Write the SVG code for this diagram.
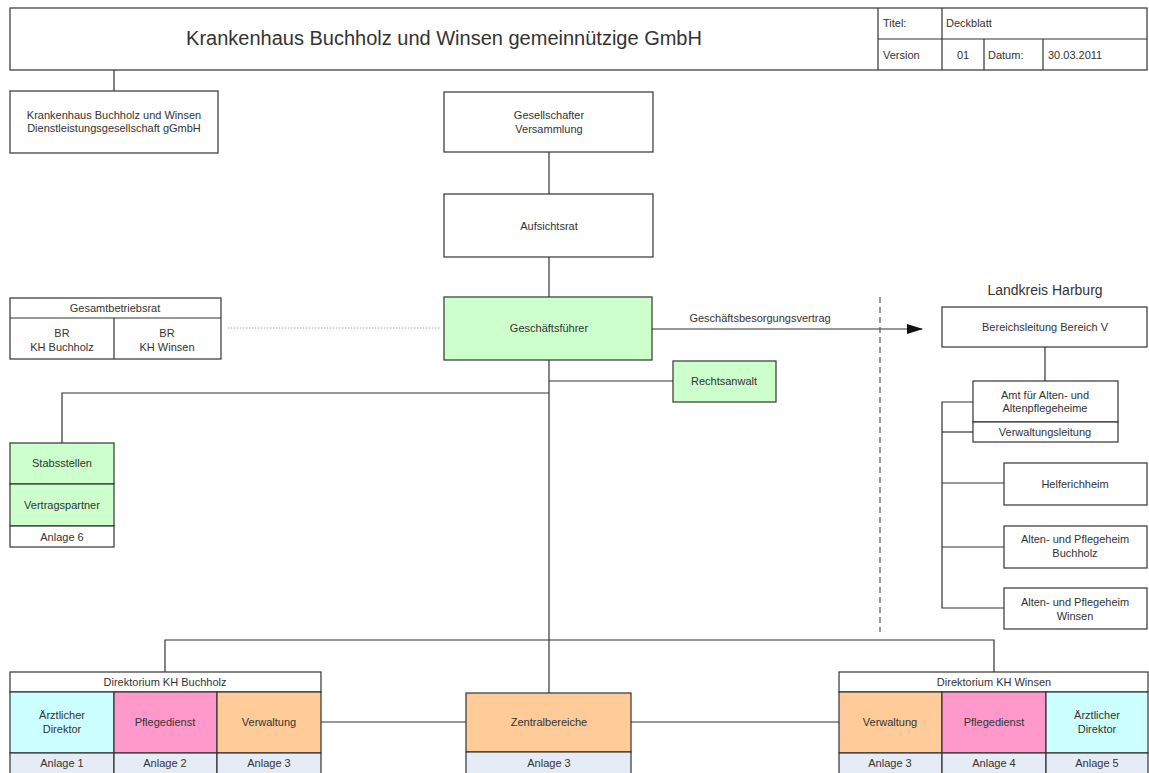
<svg xmlns="http://www.w3.org/2000/svg" width="1149" height="773" viewBox="0 0 1149 773">
<defs>
<style>
.b{fill:#fff;stroke:#333;stroke-width:1.2}
.g{fill:#ccffcc;stroke:#333;stroke-width:1.2}
.c{fill:#ccffff;stroke:#333;stroke-width:1.2}
.p{fill:#ff99cc;stroke:#333;stroke-width:1.2}
.o{fill:#ffcc99;stroke:#333;stroke-width:1.2}
.a{fill:#e6ecf6;stroke:#333;stroke-width:1.2}
.l{fill:none;stroke:#333;stroke-width:1.2}
text{font-family:"Liberation Sans",Arial,sans-serif;font-size:11px;fill:#333;text-anchor:middle;dominant-baseline:central}
.s{text-anchor:start}
</style>
<marker id="arr" markerWidth="16" markerHeight="10" refX="15" refY="5" orient="auto" markerUnits="userSpaceOnUse">
<path d="M0,0 L16,5 L0,10 Z" fill="#111"/>
</marker>
</defs>
<rect width="1149" height="773" fill="#fff"/>

<g id="connectors">
<line class="l" x1="114" y1="70" x2="114" y2="91"/>
<line class="l" x1="549" y1="152" x2="549" y2="194"/>
<line class="l" x1="549" y1="257" x2="549" y2="297"/>
<line class="l" x1="549" y1="360" x2="549" y2="693"/>
<line class="l" x1="549" y1="381" x2="673" y2="381"/>
<polyline class="l" points="549,393 62,393 62,443"/>
<polyline class="l" points="165,672 165,640 994,640 994,672"/>
<line class="l" x1="321" y1="722" x2="466" y2="722"/>
<line class="l" x1="631" y1="722" x2="839" y2="722"/>
<line x1="228" y1="328" x2="440" y2="328" stroke="#aaa" stroke-width="1" stroke-dasharray="1.5,1.5"/>
<line class="l" x1="652" y1="329" x2="922" y2="329" marker-end="url(#arr)"/>
<text x="760" y="318">Geschäftsbesorgungsvertrag</text>
<line x1="880" y1="297" x2="880" y2="632" stroke="#555" stroke-width="1.2" stroke-dasharray="6,4"/>
<line class="l" x1="1045" y1="347" x2="1045" y2="381"/>
<polyline class="l" points="973,402 942,402 942,608 1004,608"/>
<line class="l" x1="942" y1="432" x2="973" y2="432"/>
<line class="l" x1="942" y1="483" x2="1004" y2="483"/>
<line class="l" x1="942" y1="547" x2="1004" y2="547"/>
</g>

<g id="header">
<rect class="b" x="10" y="8" width="1137" height="62"/>
<line class="l" x1="878" y1="8" x2="878" y2="70"/>
<line class="l" x1="878" y1="39" x2="1147" y2="39"/>
<line class="l" x1="942" y1="8" x2="942" y2="70"/>
<line class="l" x1="984" y1="39" x2="984" y2="70"/>
<line class="l" x1="1043" y1="39" x2="1043" y2="70"/>
<text x="444" y="38" style="font-size:20px">Krankenhaus Buchholz und Winsen gemeinnützige GmbH</text>
<text class="s" x="883" y="23">Titel:</text>
<text class="s" x="946" y="23">Deckblatt</text>
<text class="s" x="883" y="55">Version</text>
<text x="963" y="55">01</text>
<text class="s" x="988" y="55">Datum:</text>
<text class="s" x="1048" y="55">30.03.2011</text>
</g>

<g id="dienstleistung">
<rect class="b" x="10" y="91" width="208" height="62"/>
<text x="114" y="115">Krankenhaus Buchholz und Winsen</text>
<text x="114" y="128">Dienstleistungsgesellschaft gGmbH</text>
</g>

<g id="gesellschafter">
<rect class="b" x="444" y="92" width="209" height="60"/>
<text x="549" y="115">Gesellschafter</text>
<text x="549" y="129">Versammlung</text>
</g>

<g id="aufsichtsrat">
<rect class="b" x="444" y="194" width="209" height="63"/>
<text x="549" y="226">Aufsichtsrat</text>
</g>

<g id="geschaeftsfuehrer">
<rect class="g" x="444" y="297" width="208" height="63"/>
<text x="549" y="328">Geschäftsführer</text>
</g>

<g id="rechtsanwalt">
<rect class="g" x="673" y="361" width="103" height="41"/>
<text x="724" y="381">Rechtsanwalt</text>
</g>

<g id="gesamtbetriebsrat">
<rect class="b" x="10" y="298" width="211" height="61"/>
<line class="l" x1="10" y1="318" x2="221" y2="318"/>
<line class="l" x1="114" y1="318" x2="114" y2="359"/>
<text x="115" y="308">Gesamtbetriebsrat</text>
<text x="62" y="333">BR</text>
<text x="62" y="347">KH Buchholz</text>
<text x="167" y="333">BR</text>
<text x="167" y="347">KH Winsen</text>
</g>

<g id="stabsstellen">
<rect class="g" x="10" y="443" width="104" height="41"/>
<rect class="g" x="10" y="484" width="104" height="42"/>
<rect class="b" x="10" y="526" width="104" height="21"/>
<text x="62" y="463">Stabsstellen</text>
<text x="62" y="505">Vertragspartner</text>
<text x="62" y="537">Anlage 6</text>
</g>

<g id="landkreis">
<text x="1045" y="290" style="font-size:14px">Landkreis Harburg</text>
</g>

<g id="bereichsleitung">
<rect class="b" x="942" y="307" width="205" height="40"/>
<text x="1045" y="327">Bereichsleitung Bereich V</text>
</g>

<g id="amt">
<rect class="b" x="973" y="381" width="145" height="41"/>
<rect class="b" x="973" y="422" width="145" height="20"/>
<text x="1045" y="395">Amt für Alten- und</text>
<text x="1045" y="408">Altenpflegeheime</text>
<text x="1045" y="432">Verwaltungsleitung</text>
</g>

<g id="helferichheim">
<rect class="b" x="1004" y="463" width="143" height="42"/>
<text x="1075" y="484">Helferichheim</text>
</g>

<g id="heim-buchholz">
<rect class="b" x="1004" y="526" width="143" height="42"/>
<text x="1075" y="539">Alten- und Pflegeheim</text>
<text x="1075" y="553">Buchholz</text>
</g>

<g id="heim-winsen">
<rect class="b" x="1004" y="588" width="143" height="41"/>
<text x="1075" y="602">Alten- und Pflegeheim</text>
<text x="1075" y="616">Winsen</text>
</g>

<g id="direktorium-buchholz">
<rect class="b" x="10" y="672" width="311" height="20"/>
<text x="165" y="682">Direktorium KH Buchholz</text>
<rect class="c" x="10" y="692" width="104" height="61"/>
<rect class="p" x="114" y="692" width="103" height="61"/>
<rect class="o" x="217" y="692" width="104" height="61"/>
<rect class="a" x="10" y="753" width="104" height="22"/>
<rect class="a" x="114" y="753" width="103" height="22"/>
<rect class="a" x="217" y="753" width="104" height="22"/>
<text x="62" y="715">Ärztlicher</text>
<text x="62" y="729">Direktor</text>
<text x="165" y="722">Pflegedienst</text>
<text x="269" y="722">Verwaltung</text>
<text x="62" y="763">Anlage 1</text>
<text x="165" y="763">Anlage 2</text>
<text x="269" y="763">Anlage 3</text>
</g>

<g id="zentralbereiche">
<rect class="o" x="466" y="693" width="165" height="59"/>
<rect class="a" x="466" y="752" width="165" height="23"/>
<text x="549" y="722">Zentralbereiche</text>
<text x="549" y="763">Anlage 3</text>
</g>

<g id="direktorium-winsen">
<rect class="b" x="839" y="672" width="309" height="20"/>
<text x="994" y="682">Direktorium KH Winsen</text>
<rect class="o" x="839" y="692" width="103" height="61"/>
<rect class="p" x="942" y="692" width="104" height="61"/>
<rect class="c" x="1046" y="692" width="102" height="61"/>
<rect class="a" x="839" y="753" width="103" height="22"/>
<rect class="a" x="942" y="753" width="104" height="22"/>
<rect class="a" x="1046" y="753" width="102" height="22"/>
<text x="890" y="722">Verwaltung</text>
<text x="994" y="722">Pflegedienst</text>
<text x="1097" y="715">Ärztlicher</text>
<text x="1097" y="729">Direktor</text>
<text x="890" y="763">Anlage 3</text>
<text x="994" y="763">Anlage 4</text>
<text x="1097" y="763">Anlage 5</text>
</g>
</svg>
